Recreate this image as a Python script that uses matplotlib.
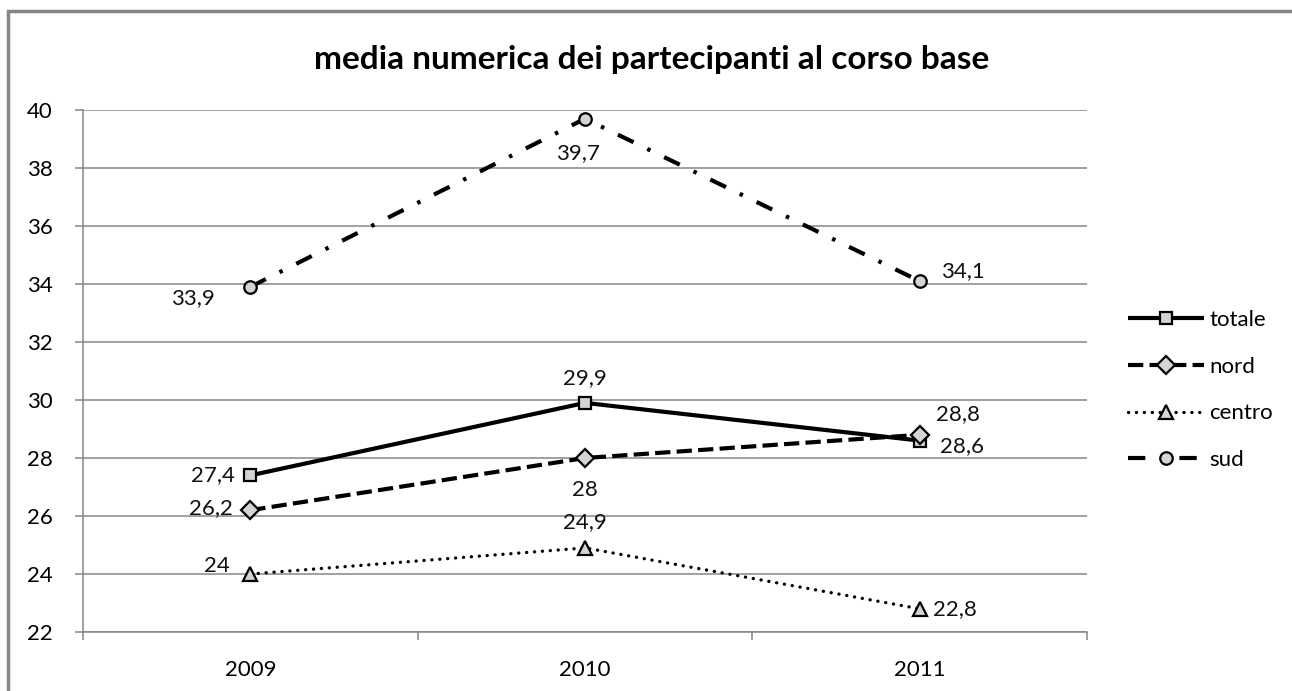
import numpy as np
import matplotlib
matplotlib.use("Agg")
import matplotlib.pyplot as plt
from matplotlib.patches import Rectangle

plt.rcParams['font.family'] = ['Lato', 'DejaVu Sans']
plt.rcParams['lines.scale_dashes'] = False

years = ['2009', '2010', '2011']
totale = [27.4, 29.9, 28.6]
nord = [26.2, 28.0, 28.8]
centro = [24.0, 24.9, 22.8]
sud = [33.9, 39.7, 34.1]
series_names = ['totale', 'nord', 'centro', 'sud']

# label offsets in pixels for each point
offs = {
    'totale': [(-37, 0), (0, 25), (42, -5)],
    'nord': [(-39, 2), (0, -32), (38, 21)],
    'centro': [(-33, 8), (0, 26), (35, 0)],
    'sud': [(-57, -11), (-7, -34), (43, 10)],
}

W, H = 1292, 691
fig = plt.figure(figsize=(W / 100, H / 100), dpi=100)
ax = fig.add_axes([83 / W, 1 - 632 / H, (1087 - 83) / W, (632 - 110) / H])

grid_c = '#868686'
fill_c = '#d4d4d4'
x = np.arange(len(years))

styles = {
    'totale': dict(ls='-', lw=3.0, marker='s', ms=9),
    'nord': dict(ls=(0, (11, 4.5)), lw=3.0, marker='D', ms=9),
    'centro': dict(ls=(0, (0.1, 5.6)), lw=2.4, marker='^', ms=10),
    'sud': dict(ls=(0, (12.5, 11, 2.5, 11)), lw=3.0, marker='o', ms=9),
}
data = {'totale': totale, 'nord': nord, 'centro': centro, 'sud': sud}

for name in series_names:
    st = styles[name]
    cap = 'round' if name == 'centro' else 'butt'
    ax.plot(x, data[name], color='black', linestyle=st['ls'], lw=st['lw'],
            marker=st['marker'], ms=st['ms'], mfc=fill_c, mec='black',
            mew=1.6, dash_capstyle=cap, solid_capstyle='butt', label=name,
            zorder=3)
    for i, v in enumerate(data[name]):
        lab = ('%g' % v).replace('.', ',')
        ax.annotate(lab, (x[i], v), xytext=offs[name][i], textcoords='offset pixels',
                    ha='center', va='center', fontsize=16, color='#111111')

ax.set_xlim(-0.5, 2.5)
ax.set_ylim(22, 40)
ax.set_yticks(np.arange(22, 41, 2))
ax.set_xticks(x)
ax.set_xticklabels(years)
ax.set_xticks([-0.5, 0.5, 1.5, 2.5], minor=True)
ax.grid(axis='y', color=grid_c, lw=1.1, zorder=0)
ax.tick_params(axis='y', length=6, color=grid_c, width=1.1, pad=16, labelsize=16)
ax.tick_params(axis='x', which='major', length=0, pad=20, labelsize=16)
ax.tick_params(axis='x', which='minor', length=6, color=grid_c, width=1.1)
for s in ['top', 'right']:
    ax.spines[s].set_visible(False)
for s in ['left', 'bottom']:
    ax.spines[s].set_color(grid_c)
    ax.spines[s].set_linewidth(1.1)

fig.text(652 / W, 1 - 60 / H, 'media numerica dei partecipanti al corso base',
         ha='center', va='center', fontsize=24, fontweight='bold')

ax.legend(loc='center left', bbox_to_anchor=(1128 / W, 1 - 390 / H),
          bbox_transform=fig.transFigure, frameon=False, fontsize=16,
          handlelength=3.4, handletextpad=0.25, labelspacing=1.2, borderpad=0,
          borderaxespad=0)

fig.patches.append(Rectangle((8 / W, -0.2), 1.5, 1.2 - 11 / H, transform=fig.transFigure,
                             fill=False, edgecolor=grid_c, lw=2.5, clip_on=False))

fig.savefig('out.png', dpi=100)
